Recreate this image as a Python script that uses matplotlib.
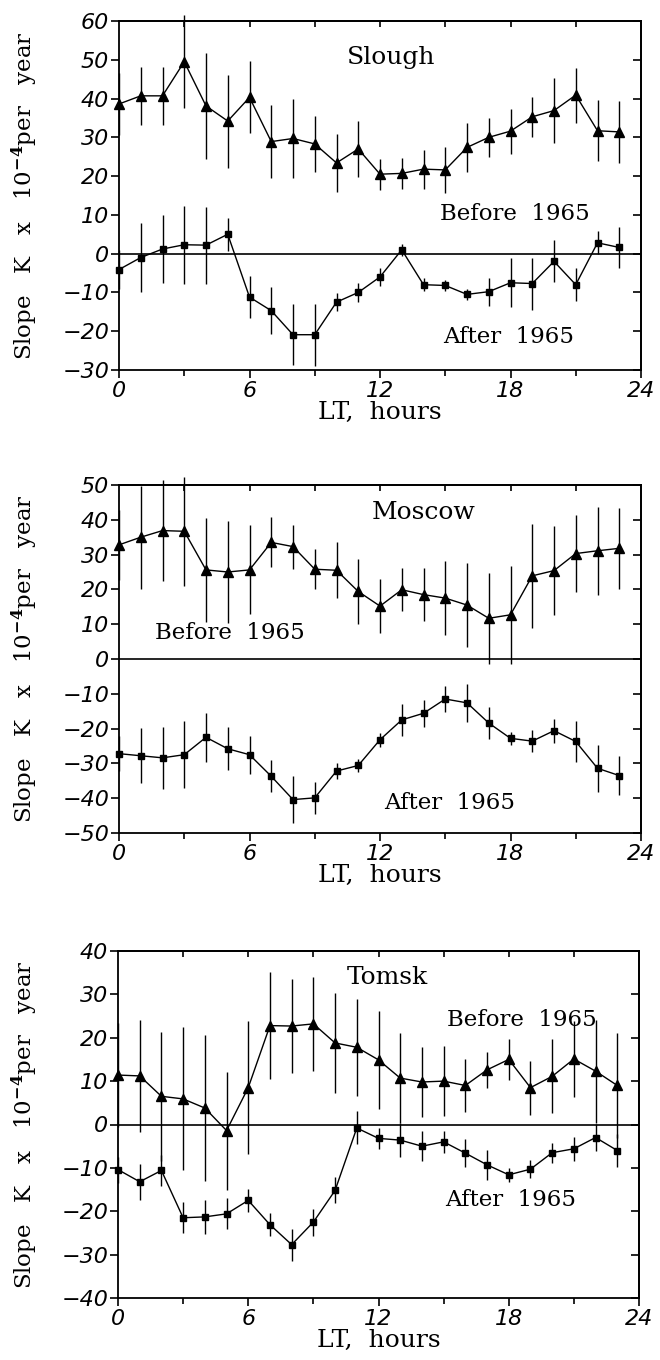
import matplotlib
matplotlib.use("Agg")
import matplotlib.pyplot as plt
from matplotlib.ticker import MultipleLocator, FixedLocator

plt.rcParams['mathtext.fontset'] = 'dejavuserif'

hours = list(range(24))

slough_before = [38.6, 40.7, 40.7, 49.5, 38.1, 34.2, 40.3, 28.9, 29.7, 28.3, 23.4, 27.0,
                 20.5, 20.7, 21.8, 21.6, 27.4, 30.0, 31.6, 35.3, 36.9, 40.9, 31.7, 31.4]
slough_before_err = [8, 7.5, 7.5, 12, 13.6, 12, 9.3, 9.4, 10.1, 7.3, 7.5, 7.2,
                     4, 3.9, 5, 6, 6.4, 5, 5.8, 5.1, 8.4, 7.1, 7.8, 7.9]
slough_after = [-4.1, -1.0, 1.2, 2.3, 2.2, 5.0, -11.2, -14.7, -20.9, -20.9, -12.5, -10.0,
                -6.0, 1.0, -8.0, -8.2, -10.5, -9.8, -7.5, -7.7, -2.0, -8.0, 2.8, 1.6]
slough_after_err = [5, 8.8, 8.75, 10, 9.9, 4.2, 5.5, 6.1, 7.8, 8, 2.4, 2.4,
                    2.3, 1.6, 1.7, 1.5, 1.4, 3.6, 6.3, 6.7, 5.4, 4.2, 3, 5.3]

moscow_before = [32.8, 35.0, 36.9, 36.7, 25.6, 25.0, 25.6, 33.5, 32.3, 25.8, 25.5, 19.4,
                 15.2, 19.9, 18.5, 17.5, 15.5, 11.7, 12.7, 23.9, 25.4, 30.3, 31.1, 31.8]
moscow_before_err = [10, 14.8, 14.4, 15.6, 15, 14.6, 12.8, 7.2, 6.3, 5.7, 8, 9.3,
                     7.7, 6.2, 7.7, 10.6, 12, 13, 14, 14.9, 12.8, 11.1, 12.7, 11.6]
moscow_after = [-27.2, -27.8, -28.4, -27.5, -22.5, -25.8, -27.5, -33.7, -40.4, -39.9, -32.2, -30.6,
                -23.2, -17.5, -15.6, -11.5, -12.6, -18.4, -22.8, -23.6, -20.6, -23.7, -31.4, -33.5]
moscow_after_err = [5, 7.9, 8.9, 9.7, 7.1, 6.2, 5.5, 4.6, 6.7, 4.5, 2.4, 2,
                    2, 4.7, 3.9, 3.6, 5.4, 4.5, 1.8, 3.1, 3.5, 5.8, 6.7, 5.5]

tomsk_before = [11.4, 11.2, 6.5, 5.9, 3.8, -1.4, 8.5, 22.8, 22.7, 23.2, 18.8, 17.8,
                14.9, 10.7, 9.8, 10.0, 9.0, 12.6, 15.0, 8.5, 11.1, 15.1, 12.3, 9.0]
tomsk_before_err = [12, 13, 14.9, 16.5, 16.8, 13.6, 15.4, 12.3, 10.8, 10.8, 11.5, 11.2,
                    11.3, 10.3, 8.1, 8.1, 6.2, 4.1, 4.8, 6.2, 8.5, 8.7, 11.9, 12]
tomsk_after = [-10.4, -13.2, -10.6, -21.5, -21.3, -20.6, -17.5, -23.1, -27.7, -22.5, -15.2, -0.8,
               -3.2, -3.6, -5.0, -4.0, -6.6, -9.3, -11.6, -10.3, -6.5, -5.6, -3.0, -6.0]
tomsk_after_err = [3, 4.2, 3.5, 3.6, 4, 3.6, 2.6, 2.7, 3.7, 3.1, 3, 3.8,
                   2.5, 3.9, 3.4, 2.6, 3.3, 3.4, 1.6, 2.1, 2.3, 2.7, 3.1, 3.8]

x_major = [0, 6, 12, 18, 24]
x_minor = [3, 9, 15, 21]

panels = [
    dict(name="Slough", ylim=(-30, 60), before=slough_before, berr=slough_before_err,
         after=slough_after, aerr=slough_after_err,
         name_xy=(12.5, 50.5), before_xy=(18.2, 10.3), after_xy=(17.9, -21.5)),
    dict(name="Moscow", ylim=(-50, 50), before=moscow_before, berr=moscow_before_err,
         after=moscow_after, aerr=moscow_after_err,
         name_xy=(14.0, 42.0), before_xy=(5.1, 7.5), after_xy=(15.2, -41.3)),
    dict(name="Tomsk", ylim=(-40, 40), before=tomsk_before, berr=tomsk_before_err,
         after=tomsk_after, aerr=tomsk_after_err,
         name_xy=(12.4, 34.0), before_xy=(18.6, 24.0), after_xy=(18.1, -17.3)),
]

rects = [
    [119/660, 1 - 370/1360, 522/660, 349/1360],
    [119/660, 1 - 833/1360, 522/660, 348/1360],
    [118/660, 1 - 1298/1360, 521/660, 347/1360],
]

serif = ['DejaVu Serif']
tickfont = dict(family='DejaVu Sans', style='oblique', size=16)

fig = plt.figure(figsize=(6.6, 13.6), dpi=100)

for p, r in zip(panels, rects):
    ax = fig.add_axes(r)
    ax.set_xlim(0, 24)
    ax.set_ylim(*p['ylim'])
    ax.axhline(0, color='black', lw=1.2, zorder=1)
    ax.errorbar(hours, p['before'], yerr=p['berr'], fmt='-^', color='black',
                ms=7.5, lw=1.0, elinewidth=1.0, capsize=0, zorder=3, clip_on=False)
    ax.errorbar(hours, p['after'], yerr=p['aerr'], fmt='-s', color='black',
                ms=5, lw=1.0, elinewidth=1.0, capsize=0, zorder=3, clip_on=False)

    for s in ax.spines.values():
        s.set_linewidth(1.3)

    ax.xaxis.set_major_locator(FixedLocator(x_major))
    ax.xaxis.set_minor_locator(FixedLocator(x_minor))
    ax.yaxis.set_major_locator(MultipleLocator(10))
    ax.tick_params(axis='x', which='major', direction='out', length=6, width=1.2,
                   top=False, pad=2)
    ax.tick_params(axis='x', which='minor', direction='out', length=4.5, width=1.2, top=False)
    ax.tick_params(axis='y', which='major', direction='out', length=6, width=1.2,
                   right=False, pad=1)
    for lab in ax.get_xticklabels() + ax.get_yticklabels():
        lab.set_fontfamily(tickfont['family'])
        lab.set_fontstyle(tickfont['style'])
        lab.set_fontsize(tickfont['size'])

    # inward ticks on top and right
    top = ax.secondary_xaxis('top')
    top.xaxis.set_major_locator(FixedLocator(x_major[1:-1] + x_minor))
    top.tick_params(direction='in', length=4, width=1.2, labeltop=False)
    top.spines['top'].set_linewidth(1.3)
    right = ax.secondary_yaxis('right')
    right.yaxis.set_major_locator(MultipleLocator(10))
    right.tick_params(direction='in', length=6, width=1.2, labelright=False)
    right.spines['right'].set_linewidth(1.3)

    ax.set_xlabel("LT,  hours", family=serif, fontsize=18, labelpad=0)
    ax.text(*p['name_xy'], p['name'], family=serif, fontsize=18, ha='center', va='center')
    ax.text(*p['before_xy'], "Before  1965", family=serif, fontsize=16.5, ha='center', va='center')
    ax.text(*p['after_xy'], "After  1965", family=serif, fontsize=16.5, ha='center', va='center')

    yc = r[1] + r[3] / 2
    fig.text(25/660, yc, r"Slope   K   x   10$^{\mathbf{-4}}$per   year", family=serif,
             fontsize=16.5, rotation=90, ha='center', va='center')

fig.savefig("out.png", dpi=100)
